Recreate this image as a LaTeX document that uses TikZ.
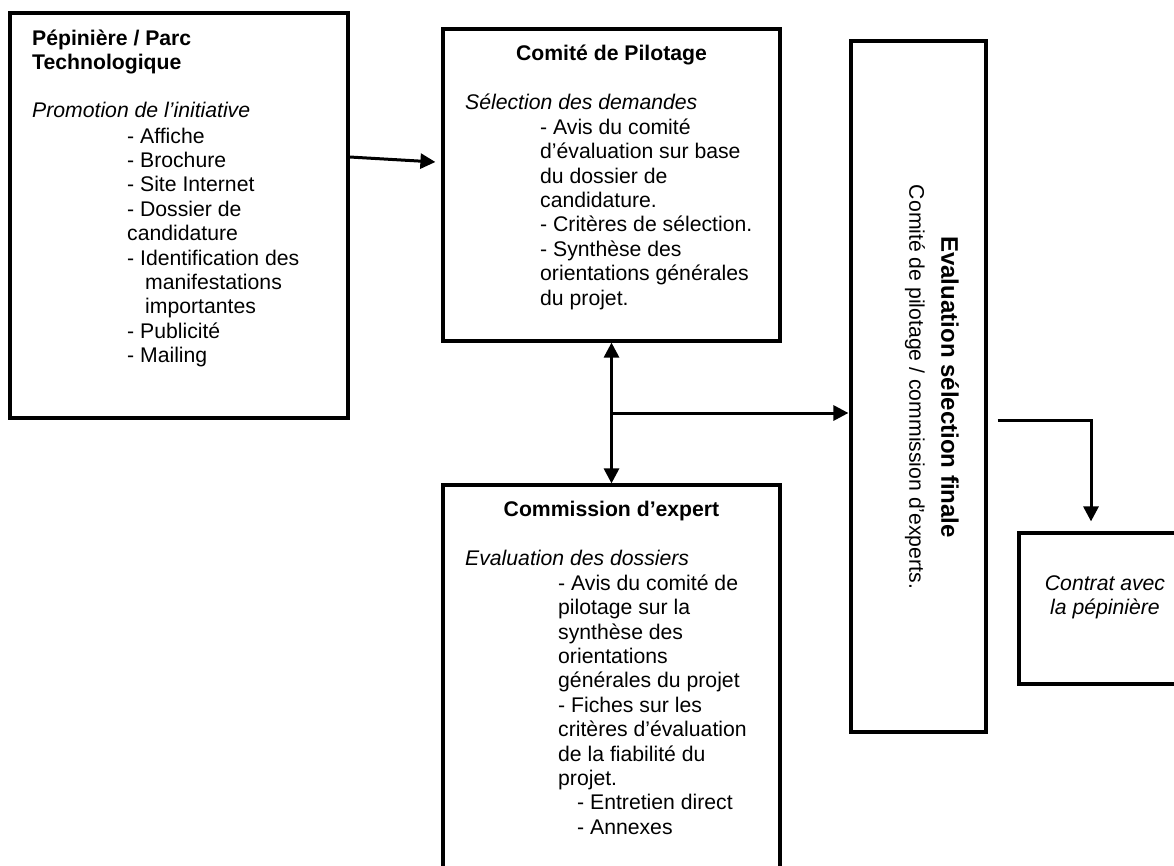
\documentclass[tikz,border=0pt]{standalone}
\usepackage{fontspec}
\setmainfont{Liberation Sans}
\usetikzlibrary{arrows.meta, positioning, calc}

\tikzset{
    box/.style={draw, line width=3.2pt, inner sep=0pt},
    txt/.style={inner sep=0pt, align=left, anchor=north west, font=\fontsize{21.2}{24.4}\selectfont},
    arr/.style={line width=3pt, -{Triangle[length=15pt, width=15pt]}},
    darr/.style={line width=3pt, {Triangle[length=15pt, width=15pt]}-{Triangle[length=15pt, width=15pt]}},
}

\begin{document}
\begin{tikzpicture}[x=1pt, y=-1pt]
    \useasboundingbox (0,0) rectangle (1174,865);
    \clip (0,0) rectangle (1174,865);

    % Pepiniere
    \node[box, minimum width=338pt, minimum height=405pt] (promo) at (179, 215.5) {};
    \node[txt, font=\fontsize{21.2}{24.4}\selectfont\bfseries] (promotitle) at (32, 29.5) {Pépinière / Parc\\ Technologique};
    \node[txt, anchor=base west, font=\fontsize{21.2}{24.4}\selectfont\itshape] (promosub) at (32, 117) {Promotion de l’initiative};
    \node[txt] (promolist) at (127, 127.5) {- Affiche\\ - Brochure\\ - Site Internet\\ - Dossier de\\ candidature\\ - Identification des\\ \hspace*{18pt}manifestations\\ \hspace*{18pt}importantes\\ - Publicité\\ - Mailing};

    % Comite de pilotage
    \node[box, minimum width=337pt, minimum height=312pt] (pilot) at (611.5, 185) {};
    \node[txt, anchor=base, font=\fontsize{21.2}{24.4}\selectfont\bfseries] (pilottitle) at (611.5, 60) {Comité de Pilotage};
    \node[txt, anchor=base west, font=\fontsize{21.2}{24.4}\selectfont\itshape] (pilotsub) at (465, 109) {Sélection des demandes};
    \node[txt] (pilotlist) at (540, 118.5) {- Avis du comité\\ d’évaluation sur base\\ du dossier de\\ candidature.\\ - Critères de sélection.\\ - Synthèse des\\ orientations générales\\ du projet.};

    % Commission d'expert
    \node[box, minimum width=337pt, minimum height=415pt] (expert) at (611.5, 692.5) {};
    \node[txt, anchor=base, font=\fontsize{21.2}{24.4}\selectfont\bfseries] (experttitle) at (611.5, 516) {Commission d’expert};
    \node[txt, anchor=base west, font=\fontsize{21.2}{24.4}\selectfont\itshape] (expertsub) at (465, 565) {Evaluation des dossiers};
    \node[txt] (expertlist) at (558, 574.5) {- Avis du comité de\\ pilotage sur la\\ synthèse des\\ orientations\\ générales du projet\\ - Fiches sur les\\ critères d’évaluation\\ de la fiabilité du\\ projet.\\ \hspace*{19pt}- Entretien direct\\ \hspace*{19pt}- Annexes};

    % Evaluation finale
    \node[box, minimum width=135pt, minimum height=691pt] (evalfin) at (918.5, 386.5) {};
    \node[inner sep=0pt, rotate=-90, font=\fontsize{24}{28}\selectfont\bfseries] (evaltitle) at (950, 387) {Evaluation sélection finale};
    \node[inner sep=0pt, rotate=-90, font=\fontsize{21.2}{24.4}\selectfont] (evalsub) at (915, 387) {Comité de pilotage / commission d’experts.};

    % Contrat
    \node[box, minimum width=172pt, minimum height=151pt] (contrat) at (1105, 608.5) {};
    \node[txt, anchor=north, align=center, font=\fontsize{21.2}{24.4}\selectfont\itshape] (contrattxt) at (1105, 575) {Contrat avec\\ la pépinière};

    % Connections
    \draw[arr] ([yshift=58.5pt]promo.east) -- ([xshift=-6pt, yshift=23pt]pilot.west);
    \draw[darr] (pilot.south) -- (expert.north);
    \coordinate (split) at ($(pilot.south)!0.5!(expert.north)$);
    \draw[arr] (split) -- ([xshift=-1pt]split -| evalfin.west);
    \draw[arr] ([xshift=10pt, yshift=-33.5pt]evalfin.east) -| ([xshift=-14pt, yshift=10pt]contrat.north);
\end{tikzpicture}
\end{document}
